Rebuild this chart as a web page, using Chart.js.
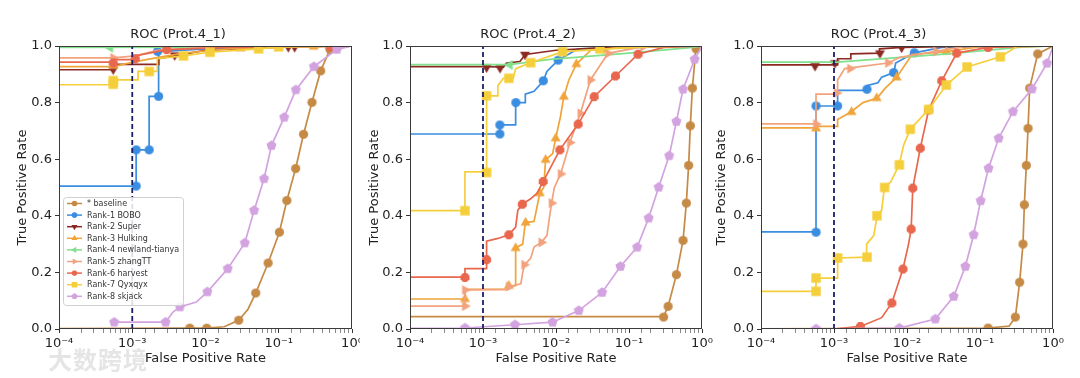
<!DOCTYPE html>
<html lang="en">
  <head>
    <meta charset="UTF-8" />
    <title>ROC</title>
    <script src="https://cdn.jsdelivr.net/npm/chart.js"></script>
    <style>
      body { margin: 0; background: #fff; width: 1080px; height: 378px; overflow: hidden; position: relative; }
      .box { position: absolute; top: 0; height: 378px; overflow: hidden; }
      .wm { position: absolute; left: 48px; top: 341px; font-family: "Noto Sans CJK SC"; font-weight: bold;
            font-size: 24px; color: rgba(222, 222, 222, 0.8); letter-spacing: 1px; }
    </style>
  </head>
  <body>
    <div class="box" style="left:0;width:360px"><canvas id="c1" width="375" height="378"></canvas></div>
    <div class="box" style="left:350px;width:385px"><canvas id="c2" width="385" height="378"></canvas></div>
    <div class="box" style="left:700px;width:380px"><canvas id="c3" width="380" height="378"></canvas></div>
    <div class="wm">大数跨境</div>
    <script>
      // ---------------- data ----------------
      const seriesNames = ["* baseline", "Rank-1 BOBO", "Rank-2 Super", "Rank-3 Hulking", "Rank-4 newland-tianya",
        "Rank-5 zhangTT", "Rank-6 harvest", "Rank-7 Qyxqyx", "Rank-8 skjack"];
      const panelTitles = ["ROC (Prot.4_1)", "ROC (Prot.4_2)", "ROC (Prot.4_3)"];
      const xTickLabels = ["10⁻⁴", "10⁻³", "10⁻²", "10⁻¹", "10⁰"];
      const fprCut = 1e-3;

      // Prot.4_1  [fpr, tpr]
      const p1_baseline = [[1e-5,0],[0.0061,0.003],[0.0104,0.003],[0.018,0.008],[0.0284,0.031],[0.038,0.07],[0.0485,0.127],[0.0716,0.233],[0.102,0.342],[0.129,0.454],[0.17,0.567],[0.218,0.688],[0.284,0.801],[0.373,0.912],[0.5,0.988],[1,1]];
      const p1_baseline_mk = [[0.0061,0.003],[0.0104,0.003],[0.0284,0.031],[0.0485,0.127],[0.0716,0.233],[0.102,0.342],[0.129,0.454],[0.17,0.567],[0.218,0.688],[0.284,0.801],[0.373,0.912],[0.5,0.988]];
      const p1_bobo = [[1e-5,0.505],[0.00113,0.505],[0.00113,0.633],[0.0017,0.633],[0.0017,0.822],[0.00229,0.822],[0.00229,0.98],[0.01,0.99],[0.1,0.998],[1,1]];
      const p1_bobo_mk = [[0.00113,0.505],[0.00113,0.633],[0.0017,0.633],[0.00229,0.822],[0.00222,0.981]];
      const p1_super = [[1e-5,0.916],[0.00055,0.916],[0.00055,0.935],[0.0023,0.935],[0.0023,0.955],[0.0038,0.965],[0.01,0.985],[0.05,0.993],[0.2,0.998],[1,1]];
      const p1_super_mk = [[0.00055,0.918],[0.0038,0.968],[0.135,0.997],[0.165,0.997]];
      const p1_hulking = [[1e-5,0.927],[0.00055,0.927],[0.0011,0.945],[0.0023,0.96],[0.005,0.975],[0.02,0.99],[0.2,0.998],[1,1]];
      const p1_hulking_mk = [[0.00055,0.93],[0.03,0.992],[0.3,0.998]];
      const p1_newland = [[1e-5,0.994],[0.01,0.996],[1,1]];
      const p1_newland_mk = [[0.0005,0.994],[0.05,0.997]];
      const p1_zhangtt = [[1e-5,0.958],[0.00055,0.958],[0.0011,0.965],[0.0022,0.985],[0.01,0.995],[1,1]];
      const p1_zhangtt_mk = [[0.00055,0.958],[0.6,0.998]];
      const p1_harvest = [[1e-5,0.943],[0.00055,0.943],[0.00055,0.952],[0.0011,0.952],[0.0011,0.965],[0.00295,0.987],[0.02,0.995],[1,1]];
      const p1_harvest_mk = [[0.00055,0.94],[0.0011,0.955],[0.00295,0.987],[0.5,0.998]];
      const p1_qyxqyx = [[1e-5,0.863],[0.00055,0.863],[0.00055,0.88],[0.0012,0.88],[0.0012,0.91],[0.0022,0.91],[0.0022,0.955],[0.005,0.965],[0.0115,0.978],[0.053,0.99],[0.1,0.997],[1,1]];
      const p1_qyxqyx_mk = [[0.00055,0.865],[0.00055,0.878],[0.0017,0.91],[0.005,0.965],[0.0115,0.978],[0.053,0.99],[0.1,0.997]];
      const p1_skjack = [[0.000566,0.024],[0.00285,0.024],[0.0036,0.06],[0.00448,0.078],[0.0075,0.095],[0.0106,0.131],[0.0201,0.213],[0.0344,0.304],[0.0461,0.419],[0.063,0.531],[0.0795,0.648],[0.1186,0.748],[0.171,0.845],[0.302,0.927],[0.624,0.988],[1,1]];
      const p1_skjack_mk = [[0.000566,0.024],[0.00285,0.024],[0.00448,0.078],[0.0106,0.131],[0.0201,0.213],[0.0344,0.304],[0.0461,0.419],[0.063,0.531],[0.0795,0.648],[0.1186,0.748],[0.171,0.845],[0.302,0.927],[0.624,0.988]];

      // Prot.4_2
      const p2_baseline = [[1e-5,0.044],[0.298,0.044],[0.343,0.08],[0.446,0.192],[0.55,0.313],[0.61,0.445],[0.656,0.578],[0.692,0.718],[0.738,0.851],[0.83,0.998],[1,1]];
      const p2_baseline_mk = [[0.298,0.042],[0.343,0.08],[0.446,0.192],[0.55,0.313],[0.61,0.445],[0.656,0.578],[0.692,0.718],[0.738,0.851],[0.83,0.99]];
      const p2_bobo = [[1e-5,0.689],[0.0017,0.689],[0.0017,0.721],[0.0028,0.721],[0.0028,0.8],[0.0038,0.8],[0.0038,0.83],[0.005,0.84],[0.0067,0.876],[0.0075,0.91],[0.0107,0.95],[0.02,0.99],[1,1]];
      const p2_bobo_mk = [[0.0017,0.689],[0.0017,0.721],[0.00282,0.8],[0.0067,0.877],[0.0107,0.95]];
      const p2_super = [[1e-5,0.927],[0.0012,0.927],[0.0019,0.925],[0.0021,0.94],[0.0032,0.945],[0.0038,0.97],[0.01,0.985],[0.05,0.995],[1,1]];
      const p2_super_mk = [[0.00112,0.925],[0.00171,0.923],[0.00376,0.97],[0.045,0.993]];
      const p2_hulking = [[1e-5,0.106],[0.000566,0.106],[0.000566,0.14],[0.0022,0.14],[0.0026,0.153],[0.0028,0.153],[0.0028,0.286],[0.0035,0.3],[0.0038,0.376],[0.005,0.38],[0.006,0.48],[0.0068,0.5],[0.0072,0.598],[0.009,0.62],[0.0099,0.674],[0.0115,0.75],[0.0128,0.821],[0.015,0.88],[0.019,0.936],[0.03,0.985],[0.1,0.998],[1,1]];
      const p2_hulking_mk = [[0.000566,0.106],[0.00226,0.153],[0.0028,0.286],[0.00383,0.376],[0.006,0.48],[0.0072,0.598],[0.0099,0.674],[0.0128,0.821],[0.019,0.936],[0.04,0.993]];
      const p2_newland = [[1e-5,0.934],[0.0023,0.934],[0.0083,0.953],[0.1,0.975],[0.75,0.995],[1,1]];
      const p2_newland_mk = [[0.00233,0.933]];
      const p2_zhangtt = [[1e-5,0.081],[0.000566,0.081],[0.000566,0.138],[0.0022,0.14],[0.0026,0.153],[0.0033,0.16],[0.0035,0.2],[0.0037,0.227],[0.0045,0.25],[0.005,0.29],[0.0063,0.306],[0.0075,0.33],[0.008,0.38],[0.0087,0.445],[0.0095,0.5],[0.0116,0.548],[0.0155,0.659],[0.0216,0.762],[0.0296,0.88],[0.0517,0.974],[0.156,0.998],[1,1]];
      const p2_zhangtt_mk = [[0.000566,0.081],[0.000566,0.138],[0.00226,0.15],[0.00367,0.227],[0.0063,0.306],[0.0087,0.445],[0.0116,0.548],[0.0155,0.659],[0.0216,0.762],[0.0296,0.88],[0.0517,0.974],[0.156,0.998]];
      const p2_harvest = [[1e-5,0.183],[0.000566,0.183],[0.000566,0.213],[0.00112,0.213],[0.00112,0.31],[0.0016,0.32],[0.00226,0.333],[0.0028,0.36],[0.003,0.42],[0.00345,0.441],[0.0045,0.46],[0.0055,0.48],[0.00667,0.521],[0.008,0.56],[0.0113,0.633],[0.0201,0.724],[0.0333,0.821],[0.0652,0.894],[0.133,0.971],[0.3,0.995],[1,1]];
      const p2_harvest_mk = [[0.000566,0.182],[0.00112,0.245],[0.00226,0.333],[0.00345,0.441],[0.00667,0.521],[0.0113,0.633],[0.0201,0.724],[0.0333,0.821],[0.0652,0.894],[0.133,0.971]];
      const p2_qyxqyx = [[1e-5,0.418],[0.000566,0.418],[0.000566,0.555],[0.00112,0.555],[0.00112,0.824],[0.0016,0.824],[0.0016,0.86],[0.0019,0.886],[0.0026,0.886],[0.0028,0.92],[0.0045,0.941],[0.0123,0.98],[0.04,0.988],[0.2,0.998],[1,1]];
      const p2_qyxqyx_mk = [[0.000566,0.418],[0.00112,0.553],[0.00112,0.824],[0.00226,0.886],[0.0045,0.941],[0.0123,0.98],[0.04,0.99]];
      const p2_skjack = [[1e-5,0],[0.000566,0.0035],[0.00274,0.015],[0.00896,0.024],[0.0205,0.065],[0.0428,0.129],[0.0762,0.221],[0.129,0.289],[0.186,0.392],[0.255,0.501],[0.355,0.612],[0.446,0.733],[0.55,0.847],[0.794,0.953],[1,1]];
      const p2_skjack_mk = [[0.000566,0.0035],[0.00274,0.015],[0.00896,0.024],[0.0205,0.065],[0.0428,0.129],[0.0762,0.221],[0.129,0.289],[0.186,0.392],[0.255,0.501],[0.355,0.612],[0.446,0.733],[0.55,0.847],[0.794,0.953]];

      // Prot.4_3
      const p3_baseline = [[1e-5,0],[0.129,0.0035],[0.25,0.01],[0.305,0.042],[0.349,0.165],[0.388,0.3],[0.405,0.439],[0.431,0.578],[0.455,0.709],[0.479,0.851],[0.617,0.972],[1,1]];
      const p3_baseline_mk = [[0.129,0.0035],[0.305,0.042],[0.349,0.165],[0.388,0.3],[0.405,0.439],[0.431,0.578],[0.455,0.709],[0.479,0.851],[0.617,0.972]];
      const p3_bobo = [[1e-5,0.343],[0.000567,0.343],[0.000567,0.788],[0.00112,0.788],[0.00112,0.843],[0.0028,0.843],[0.0028,0.86],[0.004,0.87],[0.0045,0.89],[0.0066,0.906],[0.007,0.94],[0.0126,0.976],[0.03,0.995],[1,1]];
      const p3_bobo_mk = [[0.000567,0.342],[0.000567,0.788],[0.00112,0.788],[0.00283,0.847],[0.00656,0.906],[0.0126,0.976]];
      const p3_super = [[1e-5,0.933],[0.00112,0.933],[0.00112,0.955],[0.0017,0.955],[0.0017,0.972],[0.0042,0.975],[0.0042,0.99],[0.0085,0.995],[0.05,0.999],[1,1]];
      const p3_super_mk = [[0.00055,0.93],[0.00103,0.94],[0.00426,0.975],[0.00845,0.995]];
      const p3_hulking = [[1e-5,0.711],[0.000567,0.711],[0.000567,0.716],[0.00112,0.716],[0.00112,0.74],[0.0017,0.767],[0.0025,0.8],[0.0039,0.816],[0.005,0.85],[0.0072,0.889],[0.0117,0.97],[0.035,0.98],[0.1,0.998],[1,1]];
      const p3_hulking_mk = [[0.000567,0.709],[0.00174,0.767],[0.00385,0.816],[0.0072,0.889],[0.0348,0.98]];
      const p3_newland = [[1e-5,0.943],[0.0011,0.943],[0.036,0.972],[0.37,0.996],[1,1]];
      const p3_newland_mk = [];
      const p3_zhangtt = [[1e-5,0.725],[0.000567,0.725],[0.000567,0.83],[0.00112,0.83],[0.00112,0.88],[0.0014,0.92],[0.0055,0.94],[0.008,0.96],[0.025,0.981],[0.06,0.998],[1,1]];
      const p3_zhangtt_mk = [[0.000567,0.724],[0.00109,0.834],[0.00166,0.92],[0.0055,0.94],[0.025,0.981]];
      const p3_harvest = [[1e-5,0],[0.001,0],[0.0023,0.009],[0.0045,0.04],[0.0062,0.092],[0.0088,0.212],[0.0105,0.3],[0.0114,0.353],[0.012,0.498],[0.0152,0.639],[0.0198,0.774],[0.0299,0.877],[0.048,0.975],[0.129,0.995],[1,1]];
      const p3_harvest_mk = [[0.0023,0.009],[0.0062,0.092],[0.0088,0.212],[0.0114,0.353],[0.012,0.498],[0.0152,0.639],[0.0198,0.774],[0.0299,0.877],[0.048,0.975],[0.129,0.995]];
      const p3_qyxqyx = [[1e-5,0.133],[0.000567,0.133],[0.000567,0.18],[0.00112,0.18],[0.00112,0.251],[0.0028,0.254],[0.0028,0.3],[0.0035,0.33],[0.0039,0.4],[0.0045,0.42],[0.0049,0.5],[0.006,0.52],[0.0078,0.58],[0.009,0.65],[0.0111,0.706],[0.0198,0.776],[0.0346,0.862],[0.0664,0.926],[0.19,0.962],[0.32,0.998],[1,1]];
      const p3_qyxqyx_mk = [[0.000567,0.133],[0.000567,0.18],[0.00112,0.251],[0.00283,0.254],[0.00388,0.4],[0.00494,0.5],[0.00785,0.58],[0.0111,0.706],[0.0198,0.776],[0.0346,0.862],[0.0664,0.926],[0.19,0.962]];
      const p3_skjack = [[1e-5,0],[0.000567,0],[0.00785,0.003],[0.0244,0.035],[0.0436,0.115],[0.063,0.221],[0.0819,0.333],[0.102,0.453],[0.131,0.568],[0.18,0.674],[0.283,0.768],[0.515,0.848],[0.828,0.939],[1,0.998]];
      const p3_skjack_mk = [[0.000567,0],[0.00785,0.003],[0.0244,0.035],[0.0436,0.115],[0.063,0.221],[0.0819,0.333],[0.102,0.453],[0.131,0.568],[0.18,0.674],[0.283,0.768],[0.515,0.848],[0.828,0.939]];

      // ---------------- styles ----------------
      const seriesColors = ["#c58a45", "#3a8de0", "#8c2a22", "#f0a43a", "#80e08c", "#f2a27c", "#e8674d", "#f5cf3b", "#d3a3e0"];
      const seriesShapes = ["o", "o", "v", "^", "<", ">", "8", "s", "p"];
      const FONT = "DejaVu Sans";
      const FS = 13;

      function polyPath(ctx, n, r, a0, x, y) {
        ctx.beginPath();
        for (let k = 0; k < n; k++) {
          const a = a0 + (k * 2 * Math.PI) / n;
          const px = x + r * Math.cos(a), py = y + r * Math.sin(a);
          if (k === 0) ctx.moveTo(px, py); else ctx.lineTo(px, py);
        }
        ctx.closePath();
      }
      function markerPath(ctx, shape, x, y, s) {
        const D = Math.PI / 180;
        if (shape === "o") { ctx.beginPath(); ctx.arc(x, y, s, 0, 2 * Math.PI); }
        else if (shape === "v") polyPath(ctx, 3, s * 1.25, 90 * D, x, y);
        else if (shape === "^") polyPath(ctx, 3, s * 1.25, -90 * D, x, y);
        else if (shape === "<") polyPath(ctx, 3, s * 1.25, 180 * D, x, y);
        else if (shape === ">") polyPath(ctx, 3, s * 1.25, 0, x, y);
        else if (shape === "8") polyPath(ctx, 8, s * 1.05, 22.5 * D, x, y);
        else if (shape === "s") { ctx.beginPath(); ctx.rect(x - s, y - s, 2 * s, 2 * s); }
        else if (shape === "p") polyPath(ctx, 5, s * 1.15, -90 * D, x, y);
      }
      function markerImage(shape, s, color) {
        const c = document.createElement("canvas");
        const n = Math.ceil(s * 2.8) + 2;
        c.width = c.height = n;
        const g = c.getContext("2d");
        g.fillStyle = color;
        markerPath(g, shape, n / 2, n / 2, s);
        g.fill();
        return c;
      }
      const markerImgs = seriesShapes.map((sh, i) => markerImage(sh, sh === "s" ? 4.7 : 4.6, seriesColors[i]));

      function isDecade(v) {
        const e = Math.log10(v);
        return Math.abs(e - Math.round(e)) < 1e-6;
      }

      // frame round the plot area (matplotlib spines)
      const framePlugin = {
        id: "frame",
        afterDatasetsDraw(chart) {
          const { ctx, chartArea: a } = chart;
          ctx.save();
          ctx.strokeStyle = "#3a3a3a";
          ctx.lineWidth = 1;
          ctx.strokeRect(a.left + 0.5, a.top + 0.5, a.right - a.left - 1, a.bottom - a.top - 1);
          ctx.restore();
        },
      };

      // line + marker legend like matplotlib
      const legendPlugin = {
        id: "roclegend",
        afterDraw(chart, args, opts) {
          if (!opts.show) return;
          const ctx = chart.ctx;
          const x0 = chart.chartArea.left + 4, y0 = 197, w = 120, h = 108, gap = 11.6;
          ctx.save();
          ctx.fillStyle = "rgba(255,255,255,0.85)";
          ctx.strokeStyle = "#d0d0d0";
          ctx.lineWidth = 1;
          ctx.beginPath();
          ctx.roundRect(x0 + 0.5, y0 + 0.5, w, h, 3);
          ctx.fill();
          ctx.stroke();
          ctx.font = "8px '" + FONT + "'";
          ctx.textBaseline = "middle";
          seriesNames.forEach((name, i) => {
            const y = y0 + 6.5 + i * gap;
            ctx.strokeStyle = seriesColors[i];
            ctx.lineWidth = 1.5;
            ctx.beginPath();
            ctx.moveTo(x0 + 4, y);
            ctx.lineTo(x0 + 19, y);
            ctx.stroke();
            ctx.fillStyle = seriesColors[i];
            markerPath(ctx, seriesShapes[i], x0 + 11.5, y, 2.8);
            ctx.fill();
            ctx.fillStyle = "#333";
            ctx.fillText(name, x0 + 24, y + 0.5);
          });
          ctx.restore();
        },
      };

      const toXY = (pts) => pts.map(([x, y]) => ({ x, y }));

      function makeChart(cfg) {
        const datasets = [];
        cfg.lines.forEach((pts, i) => {
          datasets.push({
            data: toXY(pts), borderColor: seriesColors[i], borderWidth: 1.7,
            pointRadius: 0, fill: false, tension: 0, order: -2 * i,
          });
          datasets.push({
            data: toXY(cfg.marks[i]), showLine: false, pointStyle: markerImgs[i],
            pointRadius: 4, pointHoverRadius: 4, order: -2 * i - 1,
          });
        });
        datasets.push({
          data: [{ x: fprCut, y: 0 }, { x: fprCut, y: 1 }], borderColor: "#1b1f6b", borderWidth: 1.8,
          borderDash: [5, 3], pointRadius: 0, order: -100,
        });

        const padL = 4;
        const half = (FS * 1.2) / 2;
        return new Chart(document.getElementById(cfg.id), {
          type: "line",
          data: { datasets },
          plugins: [framePlugin, legendPlugin],
          options: {
            responsive: false,
            animation: false,
            events: [],
            layout: { padding: { left: padL, right: cfg.width - cfg.plotRight, top: 27, bottom: 6 } },
            plugins: {
              legend: { display: false },
              tooltip: { enabled: false },
              title: {
                display: true, text: cfg.title, color: "#222",
                font: { family: FONT, size: FS, weight: "normal" },
                padding: { top: 0, bottom: 46 - 27 - FS * 1.2 },
              },
              roclegend: { show: cfg.legend },
            },
            scales: {
              x: {
                type: "logarithmic", min: 1e-4, max: 1,
                afterFit: (s) => { s.height = 43; },
                grid: {
                  drawOnChartArea: false, drawTicks: true, tickLength: 4,
                  tickColor: (c) => (c.tick && isDecade(c.tick.value) ? "#333" : "#888"),
                },
                border: { display: false },
                ticks: {
                  autoSkip: false, maxRotation: 0, color: "#222", padding: 3,
                  font: { family: FONT, size: FS },
                  callback: (v) => (isDecade(v) ? xTickLabels[Math.round(Math.log10(v)) + 4] : ""),
                },
                title: {
                  display: true, text: "False Positive Rate", color: "#222",
                  font: { family: FONT, size: FS }, padding: { top: 0, bottom: 378 - 6 - 359 - half },
                },
              },
              y: {
                min: 0, max: 1,
                afterFit: (s) => { s.width = cfg.plotLeft - padL; },
                grid: { drawOnChartArea: false, drawTicks: true, tickLength: 4, tickColor: "#333" },
                border: { display: false },
                ticks: {
                  stepSize: 0.2, color: "#222", padding: 3,
                  font: { family: FONT, size: FS },
                  callback: (v) => v.toFixed(1),
                },
                title: {
                  display: true, text: "True Positive Rate", color: "#222",
                  font: { family: FONT, size: FS },
                  padding: { top: cfg.ylabelX - padL - half, bottom: 0 },
                },
              },
            },
          },
        });
      }

      makeChart({
        id: "c1", title: panelTitles[0], width: 375, plotLeft: 59, plotRight: 352, ylabelX: 22.7, legend: true,
        lines: [p1_baseline, p1_bobo, p1_super, p1_hulking, p1_newland, p1_zhangtt, p1_harvest, p1_qyxqyx, p1_skjack],
        marks: [p1_baseline_mk, p1_bobo_mk, p1_super_mk, p1_hulking_mk, p1_newland_mk, p1_zhangtt_mk, p1_harvest_mk, p1_qyxqyx_mk, p1_skjack_mk],
      });
      makeChart({
        id: "c2", title: panelTitles[1], width: 385, plotLeft: 60, plotRight: 352, ylabelX: 25, legend: false,
        lines: [p2_baseline, p2_bobo, p2_super, p2_hulking, p2_newland, p2_zhangtt, p2_harvest, p2_qyxqyx, p2_skjack],
        marks: [p2_baseline_mk, p2_bobo_mk, p2_super_mk, p2_hulking_mk, p2_newland_mk, p2_zhangtt_mk, p2_harvest_mk, p2_qyxqyx_mk, p2_skjack_mk],
      });
      makeChart({
        id: "c3", title: panelTitles[2], width: 380, plotLeft: 61, plotRight: 353, ylabelX: 22, legend: false,
        lines: [p3_baseline, p3_bobo, p3_super, p3_hulking, p3_newland, p3_zhangtt, p3_harvest, p3_qyxqyx, p3_skjack],
        marks: [p3_baseline_mk, p3_bobo_mk, p3_super_mk, p3_hulking_mk, p3_newland_mk, p3_zhangtt_mk, p3_harvest_mk, p3_qyxqyx_mk, p3_skjack_mk],
      });
    </script>
  </body>
</html>
